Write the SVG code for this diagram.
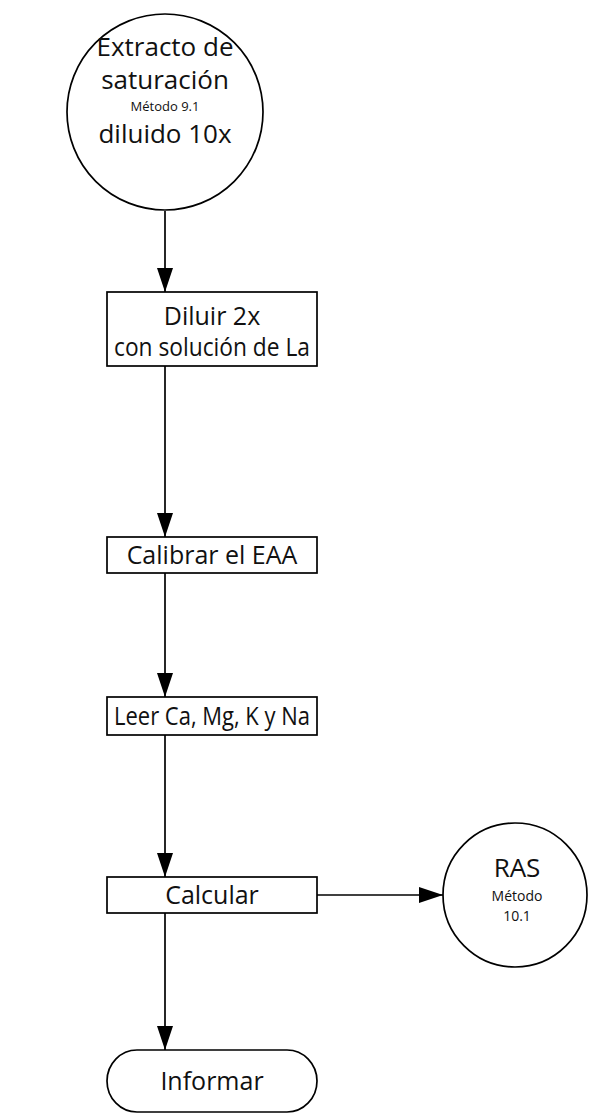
<svg xmlns="http://www.w3.org/2000/svg" width="589" height="1120" viewBox="0 0 589 1120">
  <style>
    .shape { fill: #ffffff; stroke: #000000; stroke-width: 1.7; }
    .edge { fill: none; stroke: #000000; stroke-width: 1.7; }
    .t { font-family: "Open Sans", "Liberation Sans", sans-serif; fill: #111111; text-anchor: middle; }
    .big { font-size: 25px; }
    .huge { font-size: 26px; }
    .small { font-size: 13px; }
    .mid { font-size: 14px; }
  </style>
  <defs>
    <marker id="arrow" viewBox="0 0 24 16" refX="24" refY="8" markerWidth="24" markerHeight="16" markerUnits="userSpaceOnUse" orient="auto">
      <path d="M0,0 L24,8 L0,16 Z" fill="#000000"/>
    </marker>
  </defs>

  <!-- flow connectors -->
  <g id="connectors">
    <line class="edge" x1="165" y1="211" x2="165" y2="292" marker-end="url(#arrow)"/>
    <line class="edge" x1="165" y1="366" x2="165" y2="537" marker-end="url(#arrow)"/>
    <line class="edge" x1="165" y1="573" x2="165" y2="697" marker-end="url(#arrow)"/>
    <line class="edge" x1="165" y1="735" x2="165" y2="877" marker-end="url(#arrow)"/>
    <line class="edge" x1="165" y1="913" x2="165" y2="1050" marker-end="url(#arrow)"/>
    <line class="edge" x1="317" y1="895" x2="443" y2="895" marker-end="url(#arrow)"/>
  </g>

  <g id="extracto">
    <circle class="shape" cx="165" cy="112" r="98"/>
    <text class="t huge" x="165" y="56">Extracto de</text>
    <text class="t huge" x="165" y="89">saturación</text>
    <text class="t small" x="165" y="111">Método 9.1</text>
    <text class="t huge" x="165" y="143">diluido 10x</text>
  </g>

  <g id="diluir">
    <rect class="shape" x="107" y="292" width="210" height="74"/>
    <text class="t big" x="212" y="325">Diluir 2x</text>
    <text class="t big" x="212" y="356" textLength="196" lengthAdjust="spacingAndGlyphs">con solución de La</text>
  </g>

  <g id="calibrar">
    <rect class="shape" x="107" y="537" width="210" height="36"/>
    <text class="t big" x="212" y="564">Calibrar el EAA</text>
  </g>

  <g id="leer">
    <rect class="shape" x="107" y="697" width="210" height="38"/>
    <text class="t big" x="212" y="725" textLength="196" lengthAdjust="spacingAndGlyphs">Leer Ca, Mg, K y Na</text>
  </g>

  <g id="calcular">
    <rect class="shape" x="107" y="877" width="210" height="36"/>
    <text class="t big" x="212" y="904">Calcular</text>
  </g>

  <g id="informar">
    <path class="shape" d="M137,1050 L287,1050 A30,31 0 0 1 287,1112 L137,1112 A30,31 0 0 1 137,1050 Z"/>
    <text class="t big" x="212" y="1090">Informar</text>
  </g>

  <g id="ras">
    <circle class="shape" cx="515" cy="895" r="72"/>
    <text class="t huge" x="517" y="877">RAS</text>
    <text class="t mid" x="517" y="901">Método</text>
    <text class="t mid" x="517" y="921">10.1</text>
  </g>
</svg>
